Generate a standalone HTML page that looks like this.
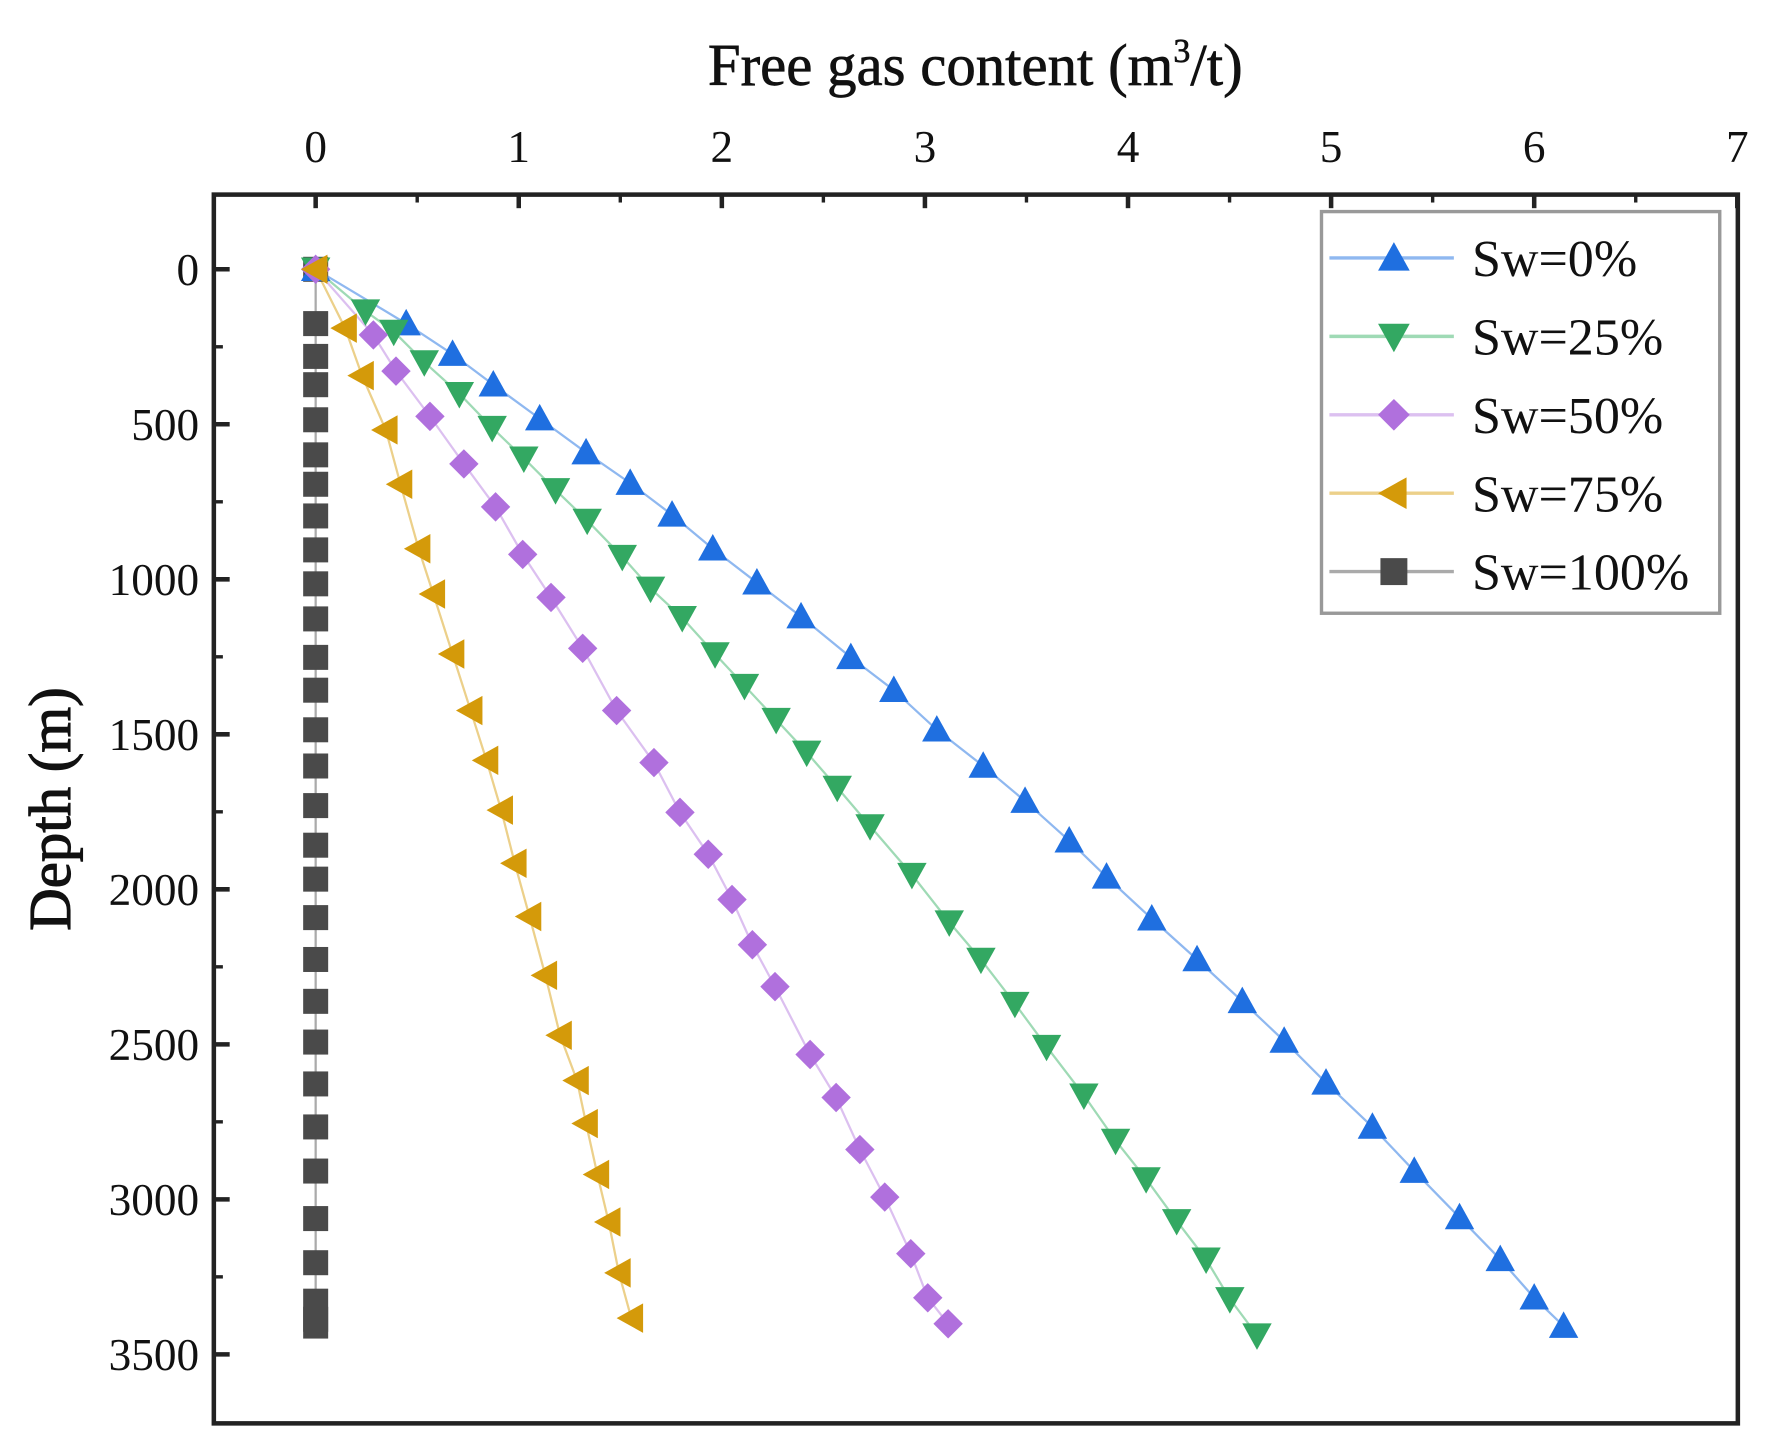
<!DOCTYPE html>
<html><head><style>html,body{margin:0;padding:0;background:#fff}svg{display:block}</style></head>
<body>
<svg id="s" width="1765" height="1446" viewBox="0 0 1560 1278" preserveAspectRatio="none" xmlns="http://www.w3.org/2000/svg" font-family="'Liberation Serif', serif">
<rect width="1560" height="1278" fill="#fff"/>
<text x="862" y="75" font-size="52" text-anchor="middle" fill="#111" stroke="#111" stroke-width="0.6">Free gas content (m<tspan dy="-20" font-size="30">3</tspan><tspan dy="20">/t)</tspan></text>
<text transform="translate(62,715) rotate(-90)" font-size="52" text-anchor="middle" fill="#111" stroke="#111" stroke-width="1">Depth (m)</text>
<g id="ax"></g>
<g id="series"></g>
<g id="leg"></g>
</svg>
<script>
const NS="http://www.w3.org/2000/svg";
function el(p,t,a,txt){const e=document.createElementNS(NS,t);for(const k in a)e.setAttribute(k,a[k]);if(txt!==undefined)e.textContent=txt;p.appendChild(e);return e;}
const ax=document.getElementById('ax');
const L=189,R=1536,T=172,B=1258,X0=279,XU=179.5,Y0=238,YU=137/500;
el(ax,'rect',{x:L,y:T,width:R-L,height:B-T,fill:'none',stroke:'#222','stroke-width':4});
for(let i=0;i<=7;i++){const x=X0+i*XU;el(ax,'line',{x1:x,y1:T,x2:x,y2:T+12,stroke:'#222','stroke-width':4});
 el(ax,'text',{x:x,y:143,'font-size':40,'text-anchor':'middle',fill:'#111'},String(i));
 if(i<7)el(ax,'line',{x1:x+XU/2,y1:T,x2:x+XU/2,y2:T+7,stroke:'#222','stroke-width':3});}
for(let d=0;d<=3500;d+=500){const y=Y0+d*YU;el(ax,'line',{x1:L,y1:y,x2:L+14,y2:y,stroke:'#222','stroke-width':4});
 el(ax,'text',{x:176,y:y+14,'font-size':40,'text-anchor':'end',fill:'#111'},String(d));}
for(let d=250;d<=3750;d+=500){const y=Y0+d*YU;if(y<B)el(ax,'line',{x1:L,y1:y,x2:L+8,y2:y,stroke:'#222','stroke-width':3});}
function mk(g,type,x,y,c,s){s=s||13;
 if(type=='up')el(g,'polygon',{points:`${x},${y-s} ${x+s},${y+s*0.8} ${x-s},${y+s*0.8}`,fill:c});
 else if(type=='down')el(g,'polygon',{points:`${x},${y+s} ${x+s},${y-s*0.8} ${x-s},${y-s*0.8}`,fill:c});
 else if(type=='dia')el(g,'polygon',{points:`${x},${y-s} ${x+s},${y} ${x},${y+s} ${x-s},${y}`,fill:c});
 else if(type=='left')el(g,'polygon',{points:`${x-s},${y} ${x+s*0.8},${y-s} ${x+s*0.8},${y+s}`,fill:c});
 else el(g,'rect',{x:x-s*0.85,y:y-s*0.85,width:s*1.7,height:s*1.7,fill:c});}
const S=[
 {t:'sq',c:'#4a4a4a',l:'#aaa',p:[[279,238],[279,286],[279,315],[279,340],[279,371],[279,402],[279,428],[279,456],[279,486],[279,516],[279,547],[279,581],[279,610],[279,645],[279,677],[279,712],[279,747],[279,777],[279,811],[279,848],[279,885],[279,921],[279,958],[279,996],[279,1035],[279,1077],[279,1116],[279,1150],[279,1166],[279,1172]]},
 {t:'up',c:'#1f6fe0',l:'#8fb8f0',p:[[279,238],[359,286],[400,313],[436,340],[477,370],[518,400],[557,427],[594,455],[630,485],[669,515],[708,545],[752,581],[790,610],[828,645],[869,677],[906,708],[945,743],[978,775],[1018,812],[1058,848],[1098,885],[1135,920],[1172,957],[1213,996],[1250,1035],[1290,1076],[1326,1113],[1356,1147],[1382,1172]]},
 {t:'down',c:'#33a862',l:'#9fdab5',p:[[279,238],[323,275],[348,293],[375,320],[406,348],[435,378],[463,405],[491,433],[519,460],[550,492],[575,520],[603,546],[632,578],[658,606],[686,636],[713,665],[740,696],[769,730],[806,773],[839,815],[867,848],[897,887],[925,925],[958,968],[986,1008],[1013,1042],[1040,1079],[1066,1113],[1087,1148],[1111,1180]]},
 {t:'dia',c:'#b070dd',l:'#dcc0f0',p:[[279,238],[330,296],[350,328],[380,368],[410,410],[438,448],[462,490],[487,528],[515,573],[545,628],[578,674],[601,718],[626,755],[647,795],[665,835],[685,872],[716,932],[739,970],[760,1016],[782,1058],[805,1108],[820,1147],[838,1170]]},
 {t:'left',c:'#d49a0a',l:'#ecd08a',p:[[279,238],[305,290],[320,332],[341,380],[354,428],[370,485],[383,525],[400,578],[416,628],[430,672],[443,716],[455,763],[468,810],[482,862],[495,915],[510,955],[518,993],[528,1038],[538,1080],[547,1125],[558,1165]]}
];
const sg=document.getElementById('series');
for(const s of S){el(sg,'polyline',{points:s.p.map(q=>q.join(',')).join(' '),fill:'none',stroke:s.l,'stroke-width':2});}
for(const s of S){for(const q of s.p)mk(sg,s.t,q[0],q[1],s.c);}
const lg=document.getElementById('leg');
el(lg,'rect',{x:1168,y:187,width:352,height:355,fill:'#fff',stroke:'#999','stroke-width':3});
const LS=[[S[1],'Sw=0%'],[S[2],'Sw=25%'],[S[3],'Sw=50%'],[S[4],'Sw=75%'],[S[0],'Sw=100%']];
LS.forEach((e,i)=>{const y=228+i*69.3;el(lg,'line',{x1:1175,y1:y,x2:1285,y2:y,stroke:e[0].l,'stroke-width':3});
 mk(lg,e[0].t,1232,y,e[0].c,14);
 el(lg,'text',{x:1301,y:y+16,'font-size':46,fill:'#111'},e[1]);});
</script>
</body></html>
